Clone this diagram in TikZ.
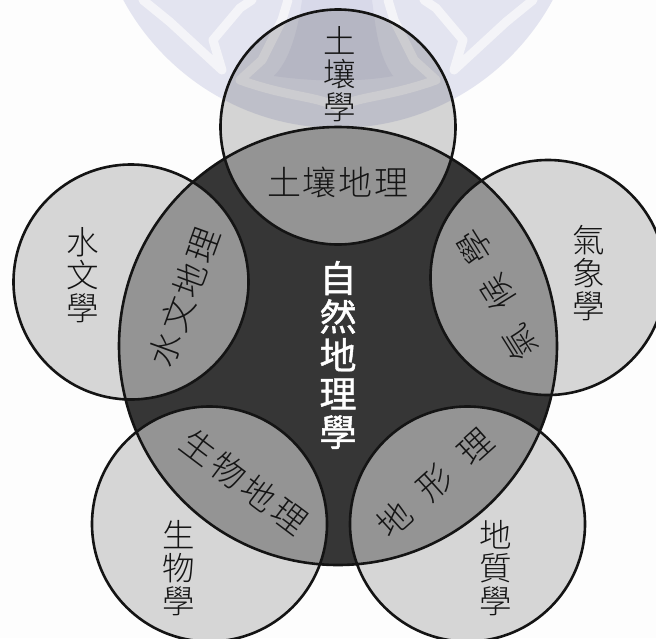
\documentclass[tikz,border=0pt]{standalone}
\usepackage{fontspec}
\setmainfont{Noto Sans CJK TC}
\newfontfamily\cjkfont{Noto Sans CJK TC Light}
\newfontfamily\cjkbold{Noto Sans CJK TC}[FakeBold=1.2]
\definecolor{paper}{HTML}{FDFDFD}
\definecolor{wmA}{HTML}{E3E4F0}
\definecolor{wmB}{HTML}{D8D9E9}
\definecolor{wmBand}{HTML}{F4F4F8}
\definecolor{petal}{HTML}{D6D6D6}
\definecolor{overlap}{HTML}{949494}
\definecolor{core}{HTML}{363636}
\definecolor{ink}{HTML}{141414}
\tikzset{
  wmline/.style={wmBand,line width=9pt,line join=round,line cap=round},
  ringline/.style={draw=ink,line width=2.6pt},
  glyph/.style={font=\cjkfont\fontsize{34}{34}\selectfont,text=ink,inner sep=0pt,outer sep=0pt},
  column/.style={font=\cjkfont\fontsize{32.5}{33}\selectfont,text=ink,inner sep=0pt,outer sep=0pt,align=center},
  corelabel/.style={font=\cjkbold\fontsize{37}{38.5}\selectfont,text=white,inner sep=0pt,outer sep=0pt,align=center}
}
\def\pTop{(338,127) circle [radius=117.5pt]}
\def\pLeft{(131,282) circle [radius=117.5pt]}
\def\pRight{(548,277.5) circle [radius=117.5pt]}
\def\pBL{(209.5,524) circle [radius=117.5pt]}
\def\pBR{(467.5,524) circle [radius=117.5pt]}
\def\pCore{(338,346) circle [radius=219pt]}
\begin{document}
\begin{tikzpicture}[x=1pt,y=-1pt]
\useasboundingbox (0,0) rectangle (656,638);
\clip (0,0) rectangle (656,638);
\fill[paper] (0,0) rectangle (656,638);
% watermark
\fill[wmA] (338,-116) circle [radius=244pt];
\draw[wmline] (143,0) -- (170,22) -- (222,70) -- (213,40) -- (240,8) -- (252,0);
\draw[wmline] (533,0) -- (506,22) -- (454,70) -- (463,40) -- (436,8) -- (424,0);
\draw[wmline] (288,0) -- (282,20) -- (262,60) -- (240,80) .. controls (290,98) and (320,96) .. (338,108)
   .. controls (356,96) and (386,98) .. (436,80) -- (414,60) -- (394,20) -- (388,0);
\fill[wmB] (302,0) -- (372,0) .. controls (376,30) and (378,55) .. (393,76)
   .. controls (360,82) and (316,82) .. (274,76) .. controls (290,60) and (298,30) .. (302,0) -- cycle;
% petals
\fill[petal,blend mode=multiply] \pTop;
\fill[petal] \pLeft;
\fill[petal] \pRight;
\fill[petal] \pBL;
\fill[petal] \pBR;
\fill[core] \pCore;
\begin{scope}
  \clip \pCore;
  \fill[overlap] \pTop;
  \fill[overlap] \pLeft;
  \fill[overlap] \pRight;
  \fill[overlap] \pBL;
  \fill[overlap] \pBR;
\end{scope}
\draw[ringline] \pTop;
\draw[ringline] \pLeft;
\draw[ringline] \pRight;
\draw[ringline] \pBL;
\draw[ringline] \pBR;
\draw[ringline] \pCore;
% outer labels
\node[column] (soil) at (340,74) {土\\壤\\學};
\node[column] (hydro) at (83,275) {水\\文\\學};
\node[column] (meteo) at (589,273) {氣\\象\\學};
\node[column] (bio) at (179,568) {生\\物\\學};
\node[column] (geo) at (496,568) {地\\質\\學};
% overlap labels
\node[glyph] (soilgeo) at (338,182) {土\kern2pt壤\kern2pt地\kern2pt理};
\node[glyph,rotate=70] (hydrogeo) at (184,297) {水\kern3pt文\kern3pt地\kern3pt理};
\node[glyph,rotate=122] (h1) at (519,343) {氣};
\node[glyph,rotate=122] (h2) at (498,293) {候};
\node[glyph,rotate=122] (h3) at (475,247) {學};
\node[glyph,rotate=-37] (biogeo) at (244,482) {生\kern4pt物\kern4pt地\kern4pt理};
\node[glyph,rotate=42] (geomorph) at (435,483) {地\kern20pt形\kern20pt理};
% core label
\node[corelabel] (core) at (338,355) {自\\然\\地\\理\\學};
\end{tikzpicture}
\end{document}
